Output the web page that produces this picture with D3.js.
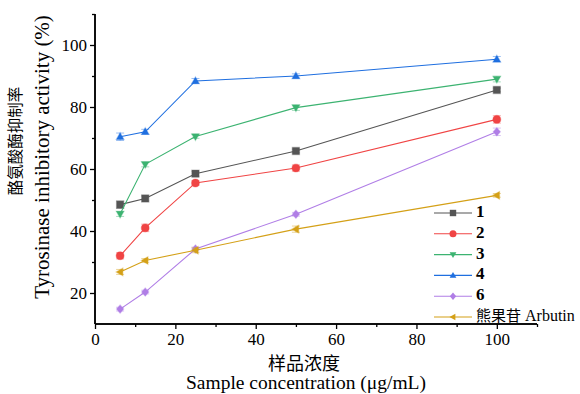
<!DOCTYPE html>
<html>
<head>
<meta charset="utf-8">
<script src="https://cdn.jsdelivr.net/npm/d3@7"></script>
<style>
  body { margin: 0; background: #fff; }
  text { font-family: "Liberation Serif", "Times New Roman", serif; }
  .cjk { font-family: "Noto Sans CJK SC", sans-serif; }
</style>
</head>
<body>
<div id="chart"></div>
<script>
// concentrations (µg/mL)
const concentrations = [6.25, 12.5, 25, 50, 100];

const seriesNames = ["1", "2", "3", "4", "6", "熊果苷 Arbutin"];
const s1 = [48.5, 50.5, 58.5, 65.8, 85.5];
const s2 = [32.0, 41.0, 55.5, 60.3, 76.0];
const s3 = [45.5, 61.5, 70.5, 79.8, 89.0];
const s4 = [70.4, 72.0, 88.4, 90.0, 95.4];
const s6 = [14.8, 20.3, 34.2, 45.4, 72.0];
const arbutin = [26.8, 30.5, 33.8, 40.6, 51.5];
const errors = [
  [1.2, 0.8, 0.8, 0.6, 0.6],
  [1.0, 1.2, 0.8, 1.0, 1.2],
  [0.8, 0.8, 0.6, 0.9, 0.9],
  [1.2, 0.8, 0.8, 0.7, 0.9],
  [0.6, 0.6, 0.6, 0.6, 1.2],
  [0.8, 0.6, 0.8, 1.0, 0.6]
];
const xTicks = [0, 20, 40, 60, 80, 100];
const yTicks = [20, 40, 60, 80, 100];

const colors = ["#555555", "#f04444", "#3cb371", "#1f6fe0", "#b07ee6", "#d4a017"];
const symbols = ["square", "circle", "triDown", "triUp", "diamond", "triLeft"];

const allValues = [s1, s2, s3, s4, s6, arbutin];
const series = seriesNames.map((name, i) => ({
  name: name,
  color: colors[i],
  symbol: symbols[i],
  points: concentrations.map((c, j) => ({x: c, y: allValues[i][j], e: errors[i][j]}))
}));

const width = 580, height = 394;
const margin = {top: 14, right: 43, bottom: 70, left: 95};

const svg = d3.select("#chart").append("svg")
  .attr("width", width)
  .attr("height", height);

const xScale = d3.scaleLinear().domain([0, 110]).range([margin.left, width - margin.right]);
const yScale = d3.scaleLinear().domain([10, 110]).range([height - margin.bottom, margin.top]);

// marker path
function markerPath(type, s) {
  switch (type) {
    case "square": return `M${-s},${-s}H${s}V${s}H${-s}Z`;
    case "circle": return d3.symbol(d3.symbolCircle, Math.PI * s * s * 1.2)();
    case "triUp": return `M0,${-s * 1.1}L${s * 1.05},${s * 0.75}L${-s * 1.05},${s * 0.75}Z`;
    case "triDown": return `M0,${s * 1.1}L${s * 1.05},${-s * 0.75}L${-s * 1.05},${-s * 0.75}Z`;
    case "triLeft": return `M${-s * 1.1},0L${s * 0.75},${-s * 1.05}L${s * 0.75},${s * 1.05}Z`;
    case "diamond": return `M0,${-s * 1.15}L${s},0L0,${s * 1.15}L${-s},0Z`;
  }
}

// axes
const xAxis = d3.axisBottom(xScale).tickValues(xTicks).tickSize(5).tickFormat(d3.format("d"));
const xMinor = d3.axisBottom(xScale).tickValues([10, 30, 50, 70, 90, 110]).tickSize(3).tickFormat("");
const yAxis = d3.axisLeft(yScale).tickValues(yTicks).tickSize(5).tickFormat(d3.format("d"));
const yMinor = d3.axisLeft(yScale).tickValues([30, 50, 70, 90, 110]).tickSize(3).tickFormat("");

const gx = svg.append("g").attr("transform", `translate(0,${yScale(10)})`);
gx.call(xAxis);
gx.append("g").call(xMinor);
gx.attr("font-family", "Liberation Serif").attr("font-size", 17);
gx.selectAll("path.domain").attr("stroke", "#000").attr("stroke-width", 1.5)
  .attr("d", `M${xScale(0)},0H${xScale(110)}`);
gx.selectAll(".tick line").attr("stroke", "#000").attr("stroke-width", 1.3);
gx.selectAll(".tick text").attr("font-size", 17).attr("fill", "#000").attr("y", 9).attr("dy", "0.71em");

const gy = svg.append("g").attr("transform", `translate(${xScale(0)},0)`);
gy.call(yAxis);
gy.append("g").call(yMinor);
gy.attr("font-family", "Liberation Serif").attr("font-size", 17);
gy.selectAll("path.domain").attr("stroke", "#000").attr("stroke-width", 1.5)
  .attr("d", `M0,${yScale(10)}V${yScale(110)}`);
gy.selectAll(".tick line").attr("stroke", "#000").attr("stroke-width", 1.3);
gy.selectAll(".tick text").attr("font-size", 17).attr("fill", "#000").attr("x", -8);

// axis titles
svg.append("text")
  .attr("class", "cjk")
  .attr("x", 304).attr("y", 365)
  .attr("text-anchor", "middle").attr("dominant-baseline", "middle")
  .attr("font-size", 18)
  .text("样品浓度");
svg.append("text")
  .attr("x", 306).attr("y", 385)
  .attr("text-anchor", "middle").attr("dominant-baseline", "middle")
  .attr("font-size", 19.5)
  .text("Sample concentration (μg/mL)");

svg.append("text")
  .attr("class", "cjk")
  .attr("transform", "translate(17,141) rotate(-90)")
  .attr("text-anchor", "middle").attr("dominant-baseline", "middle")
  .attr("font-size", 15.5)
  .text("酪氨酸酶抑制率");
svg.append("text")
  .attr("transform", "translate(44,157) rotate(-90)")
  .attr("text-anchor", "middle").attr("dominant-baseline", "middle")
  .attr("font-size", 21)
  .text("Tyrosinase inhibitory activity (%)");

// lines
const line = d3.line().x(d => xScale(d.x)).y(d => yScale(d.y));

const seriesG = svg.selectAll(".seriesG")
  .data(series)
  .join("g")
  .attr("class", "seriesG");

seriesG.append("path")
  .attr("d", d => line(d.points))
  .attr("fill", "none")
  .attr("stroke", d => d.color)
  .attr("stroke-width", 1.1);

// error bars
seriesG.each(function (s) {
  const g = d3.select(this);
  const eb = g.selectAll(".err").data(s.points).join("g").attr("class", "err")
    .attr("stroke", s.color).attr("stroke-opacity", 0.45).attr("stroke-width", 1);
  eb.append("line")
    .attr("x1", d => xScale(d.x)).attr("x2", d => xScale(d.x))
    .attr("y1", d => yScale(d.y + d.e)).attr("y2", d => yScale(d.y - d.e));
  eb.append("line")
    .attr("x1", d => xScale(d.x) - 4).attr("x2", d => xScale(d.x) + 4)
    .attr("y1", d => yScale(d.y + d.e)).attr("y2", d => yScale(d.y + d.e));
  eb.append("line")
    .attr("x1", d => xScale(d.x) - 4).attr("x2", d => xScale(d.x) + 4)
    .attr("y1", d => yScale(d.y - d.e)).attr("y2", d => yScale(d.y - d.e));

  g.selectAll(".marker").data(s.points).join("path").attr("class", "marker")
    .attr("transform", d => `translate(${xScale(d.x)},${yScale(d.y)})`)
    .attr("d", markerPath(s.symbol, 3.6))
    .attr("fill", s.color)
    .attr("stroke", s.color).attr("stroke-opacity", 0.35).attr("stroke-width", 1.2);
});

// legend
const legend = svg.append("g").attr("transform", "translate(434,213)");
const legItem = legend.selectAll(".leg").data(series).join("g")
  .attr("class", "leg")
  .attr("transform", (d, i) => `translate(0,${i * 20.8})`);
legItem.append("line")
  .attr("x1", 0).attr("x2", 38).attr("y1", 0).attr("y2", 0)
  .attr("stroke", d => d.color).attr("stroke-width", 1.1);
legItem.append("path")
  .attr("transform", "translate(19,0)")
  .attr("d", d => markerPath(d.symbol, 3.2))
  .attr("fill", d => d.color);
legItem.append("text")
  .attr("x", 42).attr("y", 0)
  .attr("dominant-baseline", "middle")
  .attr("font-size", 17)
  .attr("font-weight", (d, i) => i < 5 ? "bold" : "normal")
  .each(function (d, i) {
    const t = d3.select(this);
    if (i < 5) { t.text(d.name); return; }
    t.append("tspan").attr("class", "cjk").attr("font-size", 15).text("熊果苷");
    t.append("tspan").attr("font-size", 16).text(" Arbutin");
  });
</script>
</body>
</html>
